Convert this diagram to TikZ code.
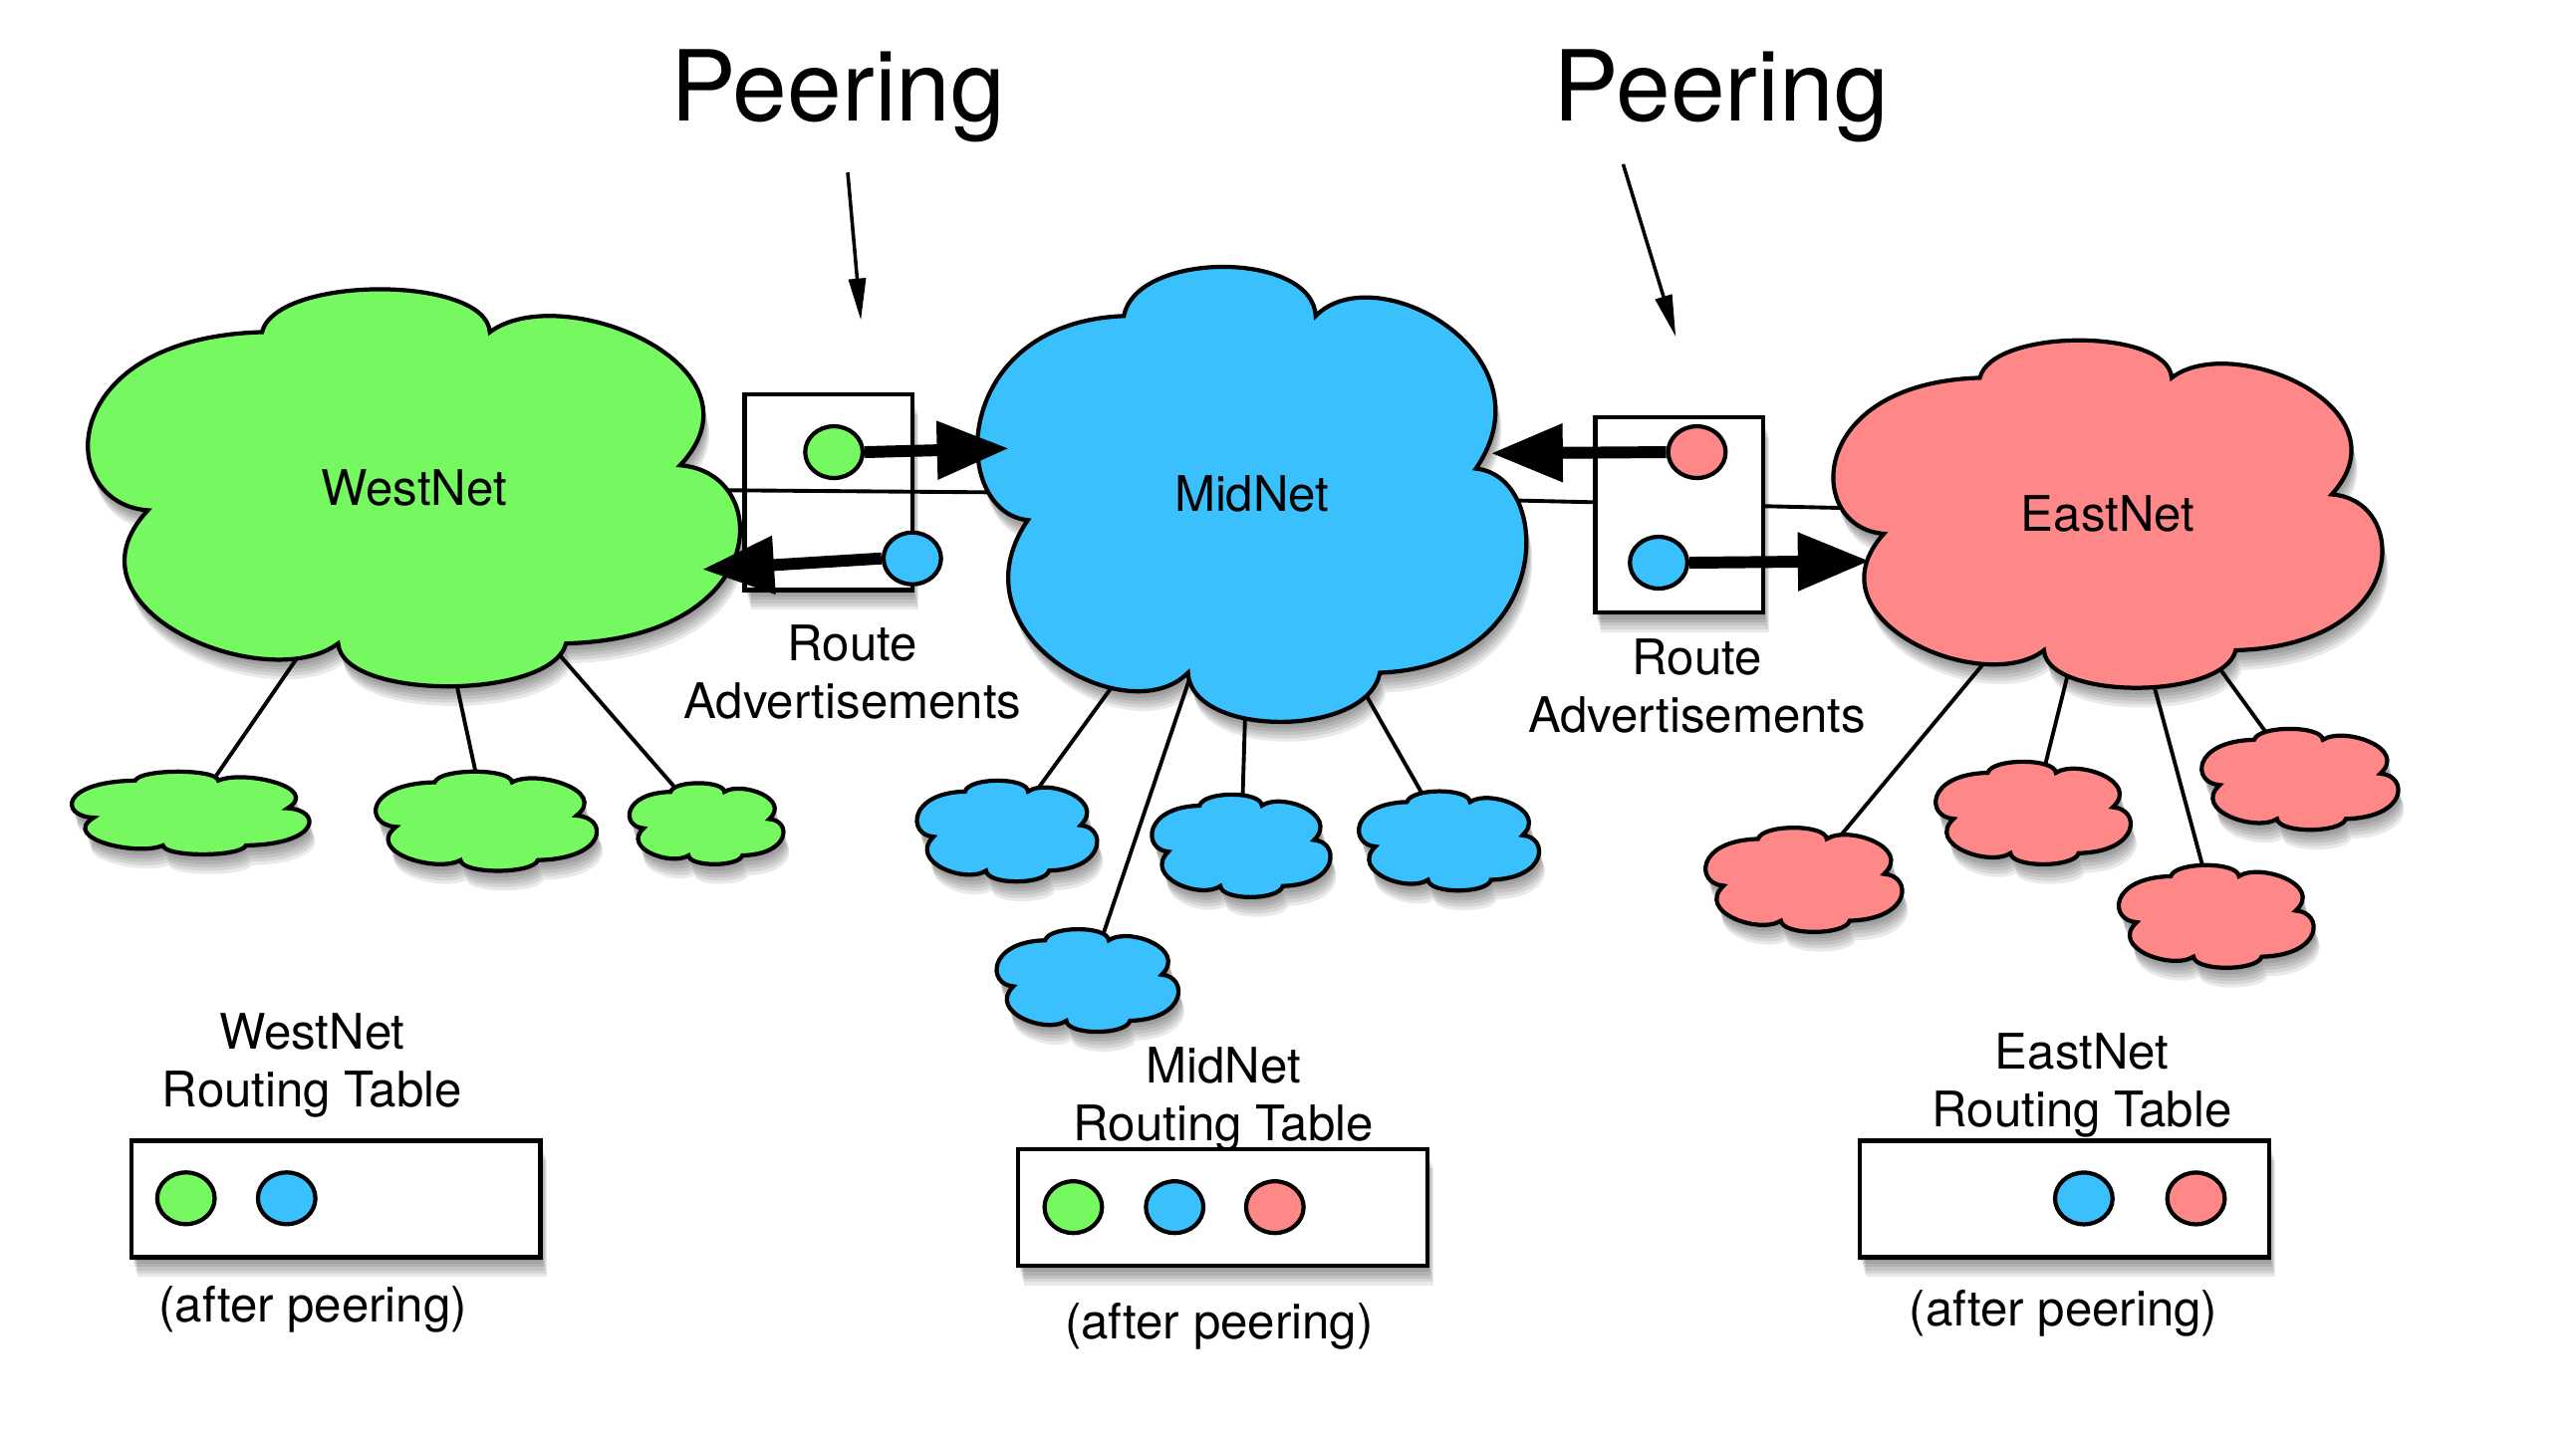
\documentclass[tikz,border=0pt]{standalone}
\usepackage{fontspec}
\setmainfont{TeX Gyre Heros}
\usetikzlibrary{shapes.geometric,shadows,arrows.meta}

\definecolor{westgreen}{RGB}{118,248,96}
\definecolor{midblue}{RGB}{58,193,253}
\definecolor{eastred}{RGB}{254,136,135}

\newlength\pu
\setlength\pu{0.016492cm}

% one cloud outline, in a box from (-1,-1) to (1,1)
\newcommand{\cloudpath}{(-0.465,-0.79) .. controls (-0.42,-1.08) and (0.22,-1.08) .. (0.232,-0.79)
  .. controls (0.45,-1.06) and (1.1,-0.62) .. (0.814,-0.114)
  .. controls (1.1,-0.08) and (1.1,0.76) .. (0.465,0.79)
  .. controls (0.42,1.08) and (-0.22,1.08) .. (-0.232,0.79)
  .. controls (-0.45,1.06) and (-1.1,0.62) .. (-0.814,0.114)
  .. controls (-1.1,0.08) and (-1.1,-0.76) .. (-0.465,-0.79) -- cycle}

% cloud at a named centre: centre, width, height, colour
\newcommand{\netcloud}[4]{%
  \foreach \off in {2,4,6,8,10,12}
    \fill[black,opacity=0.085,shift={(#1)},shift={(0.3*\off,\off)},xscale=#2/2,yscale=#3/2] \cloudpath;
  \filldraw[fill=#4,line width=1.2pt,shift={(#1)},xscale=#2/2,yscale=#3/2] \cloudpath;
}

\tikzset{
  softshadow/.style={
    general shadow={fill=black,opacity=0.085,shadow xshift=0.01cm,shadow yshift=-0.033cm},
    general shadow={fill=black,opacity=0.085,shadow xshift=0.02cm,shadow yshift=-0.066cm},
    general shadow={fill=black,opacity=0.085,shadow xshift=0.03cm,shadow yshift=-0.099cm},
    general shadow={fill=black,opacity=0.085,shadow xshift=0.04cm,shadow yshift=-0.132cm},
    general shadow={fill=black,opacity=0.085,shadow xshift=0.05cm,shadow yshift=-0.165cm},
    general shadow={fill=black,opacity=0.085,shadow xshift=0.06cm,shadow yshift=-0.198cm}},
  dot/.style={ellipse,draw,line width=1.2pt,minimum width=35\pu,minimum height=31.5\pu,inner sep=0pt},
  advbox/.style={draw,fill=white,line width=1.2pt,minimum width=102\pu,minimum height=119\pu,softshadow},
  tablebox/.style={draw,fill=white,line width=1.2pt,minimum width=249\pu,minimum height=71\pu,softshadow},
  link/.style={line width=1.1pt},
  bigarrow/.style={line width=3.4pt,-{Triangle[length=0.72cm,width=0.56cm]}},
  peerarrow/.style={line width=1pt,-{Triangle[length=0.42cm,width=0.17cm]}}
}

\begin{document}
\begin{tikzpicture}[x=0.016492cm,y=-0.016492cm,font=\fontsize{14}{16.5}\selectfont]
\useasboundingbox (0,0) rectangle (1568,874);

% network centres
\coordinate (westnet) at (252,297);
\coordinate (midnet) at (762,301);
\coordinate (eastnet) at (1283,313);
\coordinate (w1) at (116,495);
\coordinate (w2) at (296,500);
\coordinate (w3) at (430,501.5);
\coordinate (m1) at (613,506);
\coordinate (m2) at (755.5,515);
\coordinate (m3) at (882,512);
\coordinate (m4) at (662,597);
\coordinate (e1) at (1098,535.7);
\coordinate (e2) at (1237.6,495);
\coordinate (e3) at (1349,558);
\coordinate (e4) at (1400,474.5);

% links, behind the clouds
\node[advbox] (adv1) at (504.3,299.8) {};
\draw[link] (westnet) -- (midnet);
\draw[link] (midnet) -- (eastnet);
\foreach \s in {w1,w2,w3} \draw[link] (westnet) -- (\s);
\foreach \s in {m1,m2,m3,m4} \draw[link] (midnet) -- (\s);
\foreach \s in {e1,e2,e3,e4} \draw[link] (eastnet) -- (\s);

% clouds
\netcloud{westnet}{398}{240}{westgreen}
\netcloud{midnet}{335}{275}{midblue}
\netcloud{eastnet}{335}{210}{eastred}
\netcloud{w1}{145}{50}{westgreen}
\netcloud{w2}{135}{60}{westgreen}
\netcloud{w3}{94}{49}{westgreen}
\netcloud{m1}{110}{61}{midblue}
\netcloud{m2}{109}{62}{midblue}
\netcloud{m3}{110}{60}{midblue}
\netcloud{m4}{111}{62}{midblue}
\netcloud{e1}{120}{63}{eastred}
\netcloud{e2}{119}{62}{eastred}
\netcloud{e3}{119}{62}{eastred}
\netcloud{e4}{120}{61}{eastred}
\node (westname) at (westnet) {WestNet};
\node (midname) at (midnet) {MidNet};
\node (eastname) at (eastnet) {EastNet};

\node[advbox] (adv2) at (1022,313.5) {};

% route advertisements
\node[dot,fill=westgreen] (adv1g) at (507.6,275.3) {};
\node[dot,fill=midblue] (adv1b) at (555.3,340) {};
\node[dot,fill=eastred] (adv2r) at (1032.9,275.3) {};
\node[dot,fill=midblue] (adv2b) at (1009.6,342.6) {};
\coordinate (tip1) at (614,273);
\coordinate (tip2) at (427.5,346.7);
\coordinate (tip3) at (907.6,276);
\coordinate (tip4) at (1138,341.6);
\draw[bigarrow] (adv1g.east) -- (tip1);
\draw[bigarrow] (adv1b.west) -- (tip2);
\draw[bigarrow] (adv2r.west) -- (tip3);
\draw[bigarrow] (adv2b.east) -- (tip4);
\node[align=center] (adv1label) at (519,409) {Route\\Advertisements};
\node[align=center] (adv2label) at (1033,418) {Route\\Advertisements};

% peering
\node[font=\fontsize{28}{34}\selectfont,anchor=base] (peer1) at (510,73.8) {Peering};
\node[font=\fontsize{28}{34}\selectfont,anchor=base] (peer2) at (1047.5,73.8) {Peering};
\coordinate (peer1from) at (516,105);
\coordinate (peer1to) at (524,195);
\coordinate (peer2from) at (988,100);
\coordinate (peer2to) at (1020,205);
\draw[peerarrow] (peer1from) -- (peer1to);
\draw[peerarrow] (peer2from) -- (peer2to);

% routing tables
\node[tablebox] (westtable) at (204.5,730) {};
\node[dot,fill=westgreen] (wt1) at (113.2,729.6) {};
\node[dot,fill=midblue] (wt2) at (174.5,729.6) {};
\node[align=center] (westtitle) at (190,648.8) {WestNet\\Routing Table};
\node[anchor=base] (westnote) at (190.5,805) {(after peering)};

\node[tablebox] (midtable) at (744.3,735) {};
\node[dot,fill=westgreen] (mt1) at (653.3,735) {};
\node[dot,fill=midblue] (mt2) at (715,735) {};
\node[dot,fill=eastred] (mt3) at (776,735) {};
\node[align=center] (midtitle) at (744.7,669.2) {MidNet\\Routing Table};
\node[anchor=base] (midnote) at (742,815) {(after peering)};

\node[tablebox] (easttable) at (1256.5,730) {};
\node[dot,fill=midblue] (et1) at (1268.4,729.7) {};
\node[dot,fill=eastred] (et2) at (1336.7,729.7) {};
\node[align=center] (easttitle) at (1267.3,660.9) {EastNet\\Routing Table};
\node[anchor=base] (eastnote) at (1256,807.5) {(after peering)};
\end{tikzpicture}
\end{document}
